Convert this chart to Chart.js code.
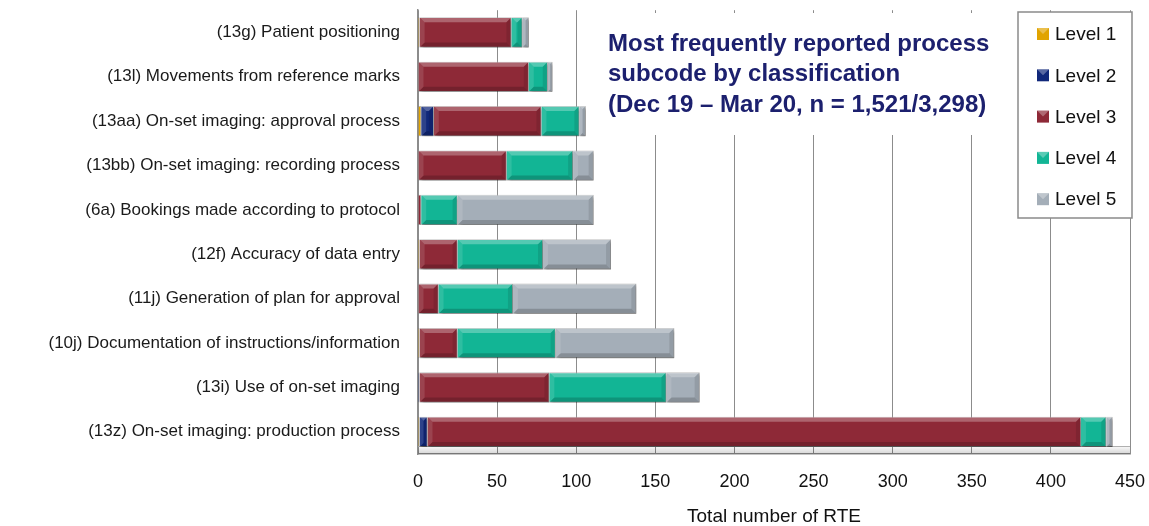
<!DOCTYPE html>
<html>
<head>
<meta charset="utf-8">
<script src="https://cdn.jsdelivr.net/npm/chart.js@4"></script>
<style>
  html, body { margin: 0; padding: 0; background: #fff; }
  #wrap { width: 1149px; height: 526px; position: relative; }
</style>
</head>
<body>
<div id="wrap"><canvas id="rteChart" width="1149" height="526"></canvas></div>
<script>
const categories = [
    '(13g) Patient positioning',
    '(13l) Movements from reference marks',
    '(13aa) On-set imaging: approval process',
    '(13bb) On-set imaging: recording process',
    '(6a) Bookings made according to protocol',
    '(12f) Accuracy of data entry',
    '(11j) Generation of plan for approval',
    '(10j) Documentation of instructions/information',
    '(13i) Use of on-set imaging',
    '(13z) On-set imaging: production process'
];
const level1 = [1, 0, 2, 0, 0, 1, 0, 1, 0, 1];
const level2 = [0, 0, 8, 0, 0, 0, 0, 0, 1, 5];
const level3 = [58, 70, 68, 56, 2, 24, 13, 24, 82, 413];
const level4 = [7, 12, 24, 42, 23, 54, 47, 62, 74, 16];
const level5 = [4, 3, 4, 13, 86, 43, 78, 75, 21, 4];
const levelNames = ['Level 1', 'Level 2', 'Level 3', 'Level 4', 'Level 5'];
const levelColors = ['#E1A400', '#11287A', '#8E2937', '#12B595', '#A4AEB8'];
const xTicks = [0, 50, 100, 150, 200, 250, 300, 350, 400, 450];
const titleLines = [
    'Most frequently reported process',
    'subcode by classification',
    '(Dec 19 \u2013 Mar 20, n = 1,521/3,298)'
];

const FONT = "'Liberation Sans', Arial, sans-serif";

// floor band, bar shadows and bevel highlights
const bevelPlugin = {
    id: 'bevel',
    beforeDatasetsDraw(chart) {
        const { ctx, chartArea: a } = chart;
        ctx.save();
        const g = ctx.createLinearGradient(0, a.bottom - 8, 0, a.bottom);
        g.addColorStop(0, 'rgba(0,0,0,0.02)');
        g.addColorStop(1, 'rgba(0,0,0,0.16)');
        ctx.fillStyle = g;
        ctx.fillRect(a.left, a.bottom - 8, a.right - a.left, 8);
        ctx.strokeStyle = '#b0b0b0';
        ctx.lineWidth = 1;
        ctx.beginPath();
        ctx.moveTo(a.left, a.bottom - 7.5);
        ctx.lineTo(a.right, a.bottom - 7.5);
        ctx.stroke();
        ctx.restore();
        ctx.save();
        ctx.shadowColor = 'rgba(0,0,0,0.35)';
        ctx.shadowOffsetX = 2;
        ctx.shadowOffsetY = 2;
        ctx.shadowBlur = 3;
    },
    afterDatasetsDraw(chart) {
        const { ctx } = chart;
        ctx.restore();
        ctx.save();
        chart.data.datasets.forEach((ds, i) => {
            chart.getDatasetMeta(i).data.forEach(bar => {
                const x0 = Math.min(bar.base, bar.x), x1 = Math.max(bar.base, bar.x);
                const w = x1 - x0;
                if (w < 3) return;
                const top = bar.y - bar.height / 2, h = bar.height;
                const e = Math.min(5, w / 2);
                ctx.fillStyle = 'rgba(255,255,255,0.28)';
                ctx.beginPath();
                ctx.moveTo(x0, top); ctx.lineTo(x1, top);
                ctx.lineTo(x1 - e, top + e); ctx.lineTo(x0 + e, top + e);
                ctx.closePath(); ctx.fill();
                ctx.fillStyle = 'rgba(0,0,0,0.18)';
                ctx.beginPath();
                ctx.moveTo(x0, top + h); ctx.lineTo(x1, top + h);
                ctx.lineTo(x1 - e, top + h - e); ctx.lineTo(x0 + e, top + h - e);
                ctx.closePath(); ctx.fill();
                ctx.fillStyle = 'rgba(0,0,0,0.10)';
                ctx.beginPath();
                ctx.moveTo(x1, top); ctx.lineTo(x1, top + h);
                ctx.lineTo(x1 - e, top + h - e); ctx.lineTo(x1 - e, top + e);
                ctx.closePath(); ctx.fill();
                ctx.fillStyle = 'rgba(255,255,255,0.12)';
                ctx.beginPath();
                ctx.moveTo(x0, top); ctx.lineTo(x0, top + h);
                ctx.lineTo(x0 + e, top + h - e); ctx.lineTo(x0 + e, top + e);
                ctx.closePath(); ctx.fill();
            });
        });
        ctx.restore();
    },
    afterDraw(chart) {
        const { ctx } = chart;
        ctx.save();
        // title box over the gridlines
        ctx.fillStyle = '#fff';
        ctx.fillRect(600, 13, 412, 122);
        ctx.fillStyle = '#1C206E';
        ctx.font = 'bold 24px ' + FONT;
        ctx.textBaseline = 'middle';
        ctx.textAlign = 'left';
        titleLines.forEach((t, i) => ctx.fillText(t, 608, 44 + i * 30.5));

        // legend box
        ctx.fillStyle = '#fff';
        ctx.fillRect(1018, 12, 114, 206);
        ctx.strokeStyle = '#8a8a8a';
        ctx.lineWidth = 1.5;
        ctx.strokeRect(1018, 12, 114, 206);
        ctx.font = '19px ' + FONT;
        chart.data.datasets.forEach((ds, i) => {
            const cy = 34 + i * 41.3;
            ctx.fillStyle = ds.backgroundColor;
            ctx.fillRect(1037, cy - 6, 12, 12);
            ctx.fillStyle = 'rgba(255,255,255,0.3)';
            ctx.beginPath();
            ctx.moveTo(1037, cy - 6); ctx.lineTo(1049, cy - 6); ctx.lineTo(1043, cy);
            ctx.closePath(); ctx.fill();
            ctx.fillStyle = '#111';
            ctx.fillText(ds.label, 1055, cy + 1);
        });
        ctx.restore();
    }
};

const seriesValues = [level1, level2, level3, level4, level5];

new Chart(document.getElementById('rteChart'), {
    type: 'bar',
    data: {
        labels: categories,
        datasets: seriesValues.map((vals, i) => ({
            label: levelNames[i],
            data: vals,
            backgroundColor: levelColors[i],
            borderColor: 'rgba(90,90,90,0.45)',
            borderWidth: 0.8,
            categoryPercentage: 0.8,
            barPercentage: 0.85
        }))
    },
    options: {
        indexAxis: 'y',
        responsive: false,
        animation: false,
        layout: { padding: { top: 9, right: 19, bottom: 0, left: 0 } },
        plugins: {
            legend: { display: false },
            tooltip: { enabled: false }
        },
        scales: {
            x: {
                stacked: true,
                min: 0,
                max: 450,
                afterBuildTicks: s => { s.ticks = xTicks.map(v => ({ value: v })); },
                afterFit: s => { s.height = 72; },
                grid: { color: '#8c8c8c', lineWidth: 1, drawTicks: true, tickLength: 17, tickColor: 'rgba(0,0,0,0)' },
                border: { color: '#8c8c8c', width: 1.5 },
                ticks: {
                    padding: 0,
                    color: '#111',
                    font: { family: FONT, size: 18 },
                    maxRotation: 0
                },
                title: {
                    display: true,
                    text: 'Total number of RTE',
                    color: '#111',
                    font: { family: FONT, size: 19, lineHeight: 1 },
                    padding: { top: 0, bottom: 0 }
                }
            },
            y: {
                stacked: true,
                afterFit: s => { s.width = 418; },
                grid: { display: false, drawTicks: true, tickLength: 18 },
                border: { color: '#8c8c8c', width: 1.5 },
                ticks: {
                    padding: 0,
                    color: '#1a1a1a',
                    font: { family: FONT, size: 17 }
                }
            }
        }
    },
    plugins: [bevelPlugin]
});
</script>
</body>
</html>
